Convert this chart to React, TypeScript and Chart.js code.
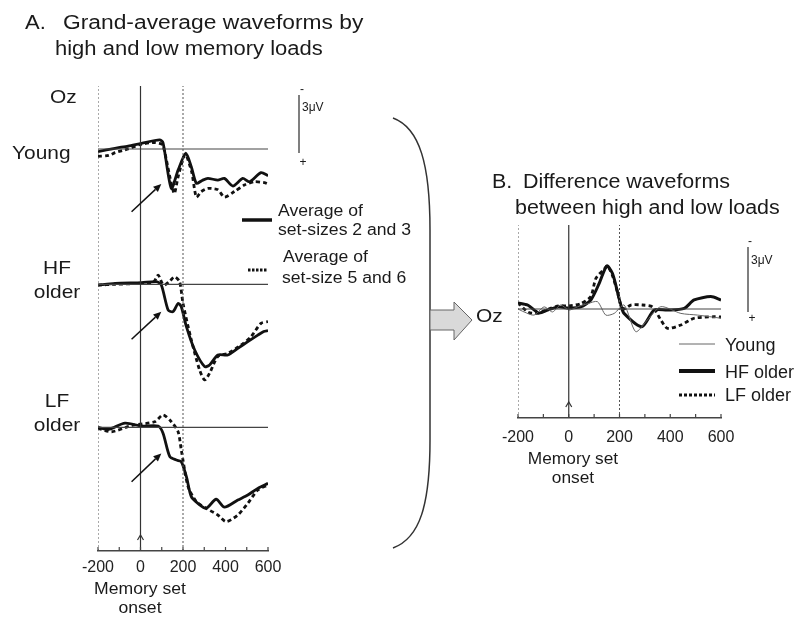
import React, { useEffect, useRef } from "react";
import Chart from "chart.js/auto";

const FONT = '"Liberation Sans", Arial, Helvetica, sans-serif';

// ---------- shared time axis (ms) ----------
const xMinMs = -200;
const xMaxMs = 600;
const tickStepMs = 200;
const minorStepMs = 100;
const markerLinesMs = [-200, 0, 200];

// ---------- Panel A: grand-average waveforms (μV, negative up) ----------
const youngLowT = [-200, -120, -58, 5, 90, 106, 145, 177, 213, 239, 263, 290, 317, 364, 395, 435, 481, 513, 567, 600];
const youngLowV = [0.14, -0.04, -0.16, -0.31, -0.49, -0.34, 2.13, 1.14, 0.23, 0.96, 1.86, 1.7, 1.59, 1.68, 1.59, 2.0, 1.59, 1.77, 1.28, 1.44];

const youngHighT = [-200, -150, -120, -60, 0, 60, 90, 106, 158, 177, 210, 240, 263, 286, 317, 364, 395, 442, 489, 536, 583, 600];
const youngHighV = [0.4, 0.35, 0.2, 0.0, -0.25, -0.35, -0.3, -0.2, 2.4, 1.5, 0.3, 1.2, 2.6, 2.3, 2.13, 2.2, 2.6, 2.3, 1.95, 1.77, 1.82, 1.89];

const hfLowT = [-200, -120, 5, 75, 98, 130, 153, 177, 192, 216, 255, 302, 325, 364, 411, 458, 505, 552, 580, 600];
const hfLowV = [0.04, -0.05, -0.09, -0.14, 0.04, 1.39, 1.48, 1.03, 1.21, 2.29, 3.55, 4.45, 4.36, 3.82, 3.82, 3.46, 3.1, 2.75, 2.55, 2.5];

const hfHighT = [-200, -120, 0, 60, 83, 100, 114, 140, 161, 184, 200, 239, 278, 302, 325, 364, 411, 474, 520, 567, 600];
const hfHighV = [0.04, 0.0, -0.05, -0.1, -0.5, -0.1, 0.04, -0.2, -0.41, -0.14, 1.03, 3.0, 4.63, 5.17, 4.81, 3.9, 3.73, 3.28, 2.83, 2.11, 2.02];

const lfLowT = [-200, -151, -73, 5, 83, 106, 138, 169, 192, 216, 239, 270, 309, 356, 395, 458, 505, 552, 600];
const lfLowV = [0, 0.11, -0.22, -0.07, -0.07, 0.32, 1.59, 1.77, 1.86, 2.67, 3.75, 4.11, 4.38, 3.89, 4.32, 3.93, 3.66, 3.3, 3.03];

const lfHighT = [-200, -136, -40, 67, 106, 145, 177, 192, 224, 263, 309, 364, 403, 458, 505, 552, 600];
const lfHighV = [0.05, 0.24, -0.1, -0.3, -0.67, -0.3, 0.24, 1.23, 3.21, 4.02, 4.38, 4.74, 5.1, 4.74, 4.11, 3.39, 3.12];

// arrows pointing at the early dip: [tailMs, tailUv, headMs, headUv]
const arrowYoung = [-42, 3.39, 98, 1.89];
const arrowHF = [-42, 2.97, 98, 1.48];
const arrowLF = [-42, 2.94, 98, 1.41];

// ---------- Panel B: difference waveforms ----------
const diffYoungT = [-200, -176, -137, -97, -64, -32, 1, 34, 74, 113, 146, 179, 218, 264, 310, 363, 442, 508, 600];
const diffYoungV = [0.0, 0.14, 0.29, -0.1, 0.14, -0.19, 0.05, -0.1, -0.25, -0.35, 0.29, 0.21, -0.19, 1.08, 0.52, -0.11, 0.21, 0.29, 0.44];

const diffHFT = [-200, -162, -118, -83, -43, 0, 47, 87, 120, 150, 172, 192, 205, 218, 288, 337, 389, 455, 494, 560, 600];
const diffHFV = [-0.29, -0.19, 0.19, 0.05, -0.1, -0.05, -0.1, -0.43, -1.22, -2.05, -1.7, -0.82, -0.19, 0.21, 0.84, 0.05, 0.05, -0.03, -0.43, -0.59, -0.43];

const diffLFT = [-200, -160, -120, -80, -40, 0, 47, 87, 107, 140, 152, 172, 192, 205, 218, 245, 290, 330, 363, 389, 442, 494, 572, 600];
const diffLFV = [-0.3, 0.15, 0.2, 0.0, -0.15, -0.15, -0.25, -0.6, -1.46, -1.9, -2.05, -1.6, -0.8, -0.2, 0.0, -0.19, -0.19, -0.1, 0.52, 0.92, 0.76, 0.44, 0.37, 0.38];

// ---------- layout constants ----------
const A = { left: 0, top: 0, w: 400, h: 619, areaL: 98, areaR: 268, areaT: 86, areaB: 551, pxPerUv: 18.5 };
const A_BASE = { young: 149, hf: 284.3, lf: 427.3 };
const B = { left: 440, top: 200, w: 359, h: 419, areaL: 518, areaR: 721, areaT: 225, areaB: 418, pxPerUv: 21, base: 309 };
const AXIS_H = 30;

function pts(t: number[], v: number[]) {
  return t.map((x, i) => ({ x, y: v[i] }));
}

function yRange(areaT: number, areaB: number, base: number, px: number) {
  return { min: (areaT - base) / px, max: (areaB - base) / px };
}

const axisDecor = {
  id: "axisDecor",
  afterDraw(chart: any) {
    const xs = chart.scales.x;
    const ctx = chart.ctx;
    const b = chart.chartArea.bottom;
    ctx.save();
    ctx.strokeStyle = "#444";
    ctx.lineWidth = 1.2;
    for (let v = xs.min; v <= xs.max + 0.01; v += minorStepMs) {
      const px = xs.getPixelForValue(v);
      ctx.beginPath();
      ctx.moveTo(px, b);
      ctx.lineTo(px, b - 4);
      ctx.stroke();
    }
    const p0 = xs.getPixelForValue(0);
    ctx.strokeStyle = "#333";
    ctx.beginPath();
    ctx.moveTo(p0 - 3, b - 11);
    ctx.lineTo(p0, b - 16);
    ctx.lineTo(p0 + 3, b - 11);
    ctx.stroke();
    ctx.restore();
  },
};

const arrowsPlugin = {
  id: "arrows",
  afterDatasetsDraw(chart: any, _args: any, opts: any) {
    const items = (opts && opts.items) || [];
    const ctx = chart.ctx;
    const xs = chart.scales.x;
    ctx.save();
    ctx.strokeStyle = "#111";
    ctx.fillStyle = "#111";
    ctx.lineWidth = 1.5;
    for (const it of items) {
      const ys = chart.scales[it.axis];
      const [t0, v0, t1, v1] = it.a;
      const x0 = xs.getPixelForValue(t0), y0 = ys.getPixelForValue(v0);
      const x1 = xs.getPixelForValue(t1), y1 = ys.getPixelForValue(v1);
      const ang = Math.atan2(y1 - y0, x1 - x0);
      const hl = 8, hw = 3.5;
      const bx = x1 - hl * Math.cos(ang), by = y1 - hl * Math.sin(ang);
      ctx.beginPath();
      ctx.moveTo(x0, y0);
      ctx.lineTo(bx, by);
      ctx.stroke();
      ctx.beginPath();
      ctx.moveTo(x1, y1);
      ctx.lineTo(bx + hw * Math.sin(ang), by - hw * Math.cos(ang));
      ctx.lineTo(bx - hw * Math.sin(ang), by + hw * Math.cos(ang));
      ctx.closePath();
      ctx.fill();
    }
    ctx.restore();
  },
};

function markerSets(axis: string) {
  return markerLinesMs.map((ms) => ({
    data: [{ x: ms, y: 0 }, { x: ms, y: 1 }],
    yAxisID: axis,
    borderColor: ms === 0 ? "#333" : "#555",
    borderWidth: ms === 0 ? 1.2 : 1,
    borderDash: ms === 0 ? [] : [2, 2],
    tension: 0,
  }));
}

function baseline(axis: string) {
  return {
    data: [{ x: xMinMs, y: 0 }, { x: xMaxMs, y: 0 }],
    yAxisID: axis,
    borderColor: "#444",
    borderWidth: 1.2,
    tension: 0,
  };
}

function wave(t: number[], v: number[], axis: string, dashed: boolean, width = 2.8, color = "#111") {
  return {
    data: pts(t, v),
    yAxisID: axis,
    borderColor: color,
    borderWidth: width,
    borderDash: dashed ? [4, 3] : [],
    tension: 0.25,
  };
}

function xScale(padding: number) {
  return {
    type: "linear",
    min: xMinMs,
    max: xMaxMs,
    afterFit: (s: any) => {
      s.height = AXIS_H;
    },
    grid: { display: false },
    border: { display: true, color: "#444", width: 1.5 },
    ticks: {
      stepSize: tickStepMs,
      autoSkip: false,
      maxRotation: 0,
      minRotation: 0,
      padding,
      color: "#222",
      font: { family: FONT, size: 16 },
    },
  };
}

function baseOptions(pad: any) {
  return {
    animation: false,
    responsive: false,
    events: [],
    layout: { padding: pad },
    elements: { point: { radius: 0 }, line: { borderJoinStyle: "round", borderCapStyle: "butt" } },
  };
}

function configA(): any {
  const ry = yRange(A.areaT, A.areaB, A_BASE.young, A.pxPerUv);
  const rh = yRange(A.areaT, A.areaB, A_BASE.hf, A.pxPerUv);
  const rl = yRange(A.areaT, A.areaB, A_BASE.lf, A.pxPerUv);
  return {
    type: "line",
    data: {
      datasets: [
        ...markerSets("yv"),
        baseline("yYoung"),
        baseline("yHF"),
        baseline("yLF"),
        wave(youngHighT, youngHighV, "yYoung", true),
        wave(youngLowT, youngLowV, "yYoung", false),
        wave(hfHighT, hfHighV, "yHF", true),
        wave(hfLowT, hfLowV, "yHF", false),
        wave(lfHighT, lfHighV, "yLF", true),
        wave(lfLowT, lfLowV, "yLF", false),
      ],
    },
    options: {
      ...baseOptions({
        left: A.areaL - A.left,
        right: A.left + A.w - A.areaR,
        top: A.areaT - A.top,
        bottom: A.top + A.h - A.areaB - AXIS_H,
      }),
      plugins: {
        legend: { display: false },
        tooltip: { enabled: false },
        arrows: {
          items: [
            { axis: "yYoung", a: arrowYoung },
            { axis: "yHF", a: arrowHF },
            { axis: "yLF", a: arrowLF },
          ],
        },
      },
      scales: {
        x: xScale(-1),
        yv: { display: false, min: 0, max: 1 },
        yYoung: { display: false, reverse: true, ...ry },
        yHF: { display: false, reverse: true, ...rh },
        yLF: { display: false, reverse: true, ...rl },
      },
    },
    plugins: [axisDecor, arrowsPlugin],
  };
}

function configB(): any {
  const r = yRange(B.areaT, B.areaB, B.base, B.pxPerUv);
  return {
    type: "line",
    data: {
      datasets: [
        ...markerSets("yv"),
        baseline("y"),
        wave(diffYoungT, diffYoungV, "y", false, 1, "#666"),
        wave(diffLFT, diffLFV, "y", true, 2.8),
        wave(diffHFT, diffHFV, "y", false, 3),
      ],
    },
    options: {
      ...baseOptions({
        left: B.areaL - B.left,
        right: B.left + B.w - B.areaR,
        top: B.areaT - B.top,
        bottom: B.top + B.h - B.areaB - AXIS_H,
      }),
      plugins: { legend: { display: false }, tooltip: { enabled: false }, arrows: { items: [] } },
      scales: {
        x: xScale(2),
        yv: { display: false, min: 0, max: 1 },
        y: { display: false, reverse: true, ...r },
      },
    },
    plugins: [axisDecor, arrowsPlugin],
  };
}

function T(props: { x: number; y: number; s: string; size?: number; sx?: number; align?: "left" | "center" }) {
  const { x, y, s, size = 19, sx = 1.1, align = "left" } = props;
  const tr = align === "center" ? "translate(-50%,-50%)" : "translate(0,-50%)";
  return (
    <div
      style={{
        position: "absolute",
        left: x,
        top: y,
        fontSize: size,
        lineHeight: 1,
        whiteSpace: "pre",
        transform: `${tr} scaleX(${sx})`,
        transformOrigin: align === "center" ? "center center" : "left center",
      }}
    >
      {s}
    </div>
  );
}

export default function App() {
  const refA = useRef<HTMLCanvasElement>(null);
  const refB = useRef<HTMLCanvasElement>(null);
  useEffect(() => {
    const a = new Chart(refA.current as HTMLCanvasElement, configA());
    const b = new Chart(refB.current as HTMLCanvasElement, configB());
    return () => {
      a.destroy();
      b.destroy();
    };
  }, []);

  return (
    <div
      style={{
        position: "absolute",
        left: 0,
        top: 0,
        width: 799,
        height: 619,
        background: "#fff",
        overflow: "hidden",
        fontFamily: FONT,
        color: "#1a1a1a",
      }}
    >
      <canvas ref={refA} width={A.w} height={A.h} style={{ position: "absolute", left: A.left, top: A.top }} />
      <canvas ref={refB} width={B.w} height={B.h} style={{ position: "absolute", left: B.left, top: B.top }} />

      <svg width={799} height={619} style={{ position: "absolute", left: 0, top: 0, pointerEvents: "none" }}>
        {/* brace */}
        <path d="M 393 118 C 420 128, 430 165, 430 230 L 430 440 C 430 505, 420 538, 393 548" fill="none" stroke="#333" strokeWidth={1.5} />
        {/* grey arrow */}
        <polygon points="430,310 454,310 454,302 472,320 454,340 454,330 430,330" fill="#d9d9d9" stroke="#666" strokeWidth={1} />
        {/* scale bars */}
        <line x1={299} y1={95} x2={299} y2={153} stroke="#555" strokeWidth={1.5} />
        <line x1={748} y1={247} x2={748} y2={312} stroke="#555" strokeWidth={1.5} />
        {/* legend A */}
        <line x1={242} y1={220} x2={272} y2={220} stroke="#111" strokeWidth={3.5} />
        <line x1={248} y1={270} x2={268} y2={270} stroke="#111" strokeWidth={3} strokeDasharray="2.5,1.5" />
        {/* legend B */}
        <line x1={679} y1={344} x2={715} y2={344} stroke="#666" strokeWidth={1} />
        <line x1={679} y1={371} x2={715} y2={371} stroke="#111" strokeWidth={4} />
        <line x1={679} y1={395} x2={715} y2={395} stroke="#111" strokeWidth={3} strokeDasharray="3,2" />
      </svg>

      {/* Titles */}
      <T x={25} y={22} s="A." size={20} />
      <T x={63} y={22} s="Grand-average waveforms by" size={20} sx={1.14} />
      <T x={55} y={48} s="high and low memory loads" size={20} />
      <T x={492} y={182} s="B." size={19.5} />
      <T x={523} y={182} s="Difference waveforms" size={19.5} />
      <T x={515} y={208} s="between high and low loads" size={19.5} />

      {/* Panel A labels */}
      <T x={50} y={96} s="Oz" />
      <T x={12} y={152} s="Young" />
      <T x={57} y={267} s="HF" align="center" />
      <T x={57} y={291} s="older" align="center" />
      <T x={57} y={400} s="LF" align="center" />
      <T x={57} y={424} s="older" align="center" />

      {/* scale bar text A */}
      <T x={302} y={89} s="-" size={12} sx={1} align="center" />
      <T x={302} y={107} s="3μV" size={12} sx={1} />
      <T x={303} y={162} s="+" size={12} sx={1} align="center" />
      {/* scale bar text B */}
      <T x={750} y={241} s="-" size={12} sx={1} align="center" />
      <T x={751} y={260} s="3μV" size={12} sx={1} />
      <T x={752} y={318} s="+" size={12} sx={1} align="center" />

      {/* legend A text */}
      <T x={278} y={211} s="Average of" size={16} />
      <T x={278} y={230} s="set-sizes 2 and 3" size={16} />
      <T x={283} y={257} s="Average of" size={16} />
      <T x={282} y={278} s="set-size 5 and 6" size={16} />

      {/* legend B text */}
      <T x={725} y={345} s="Young" size={18} sx={1} />
      <T x={725} y={372} s="HF older" size={18} sx={1} />
      <T x={725} y={395} s="LF older" size={18} sx={1} />

      {/* Oz B */}
      <T x={476} y={315} s="Oz" />

      {/* axis captions */}
      <T x={140} y={589} s="Memory set" size={16} align="center" />
      <T x={140} y={608} s="onset" size={16} align="center" />
      <T x={573} y={459} s="Memory set" size={16} sx={1.08} align="center" />
      <T x={573} y={478} s="onset" size={16} sx={1.08} align="center" />
    </div>
  );
}
